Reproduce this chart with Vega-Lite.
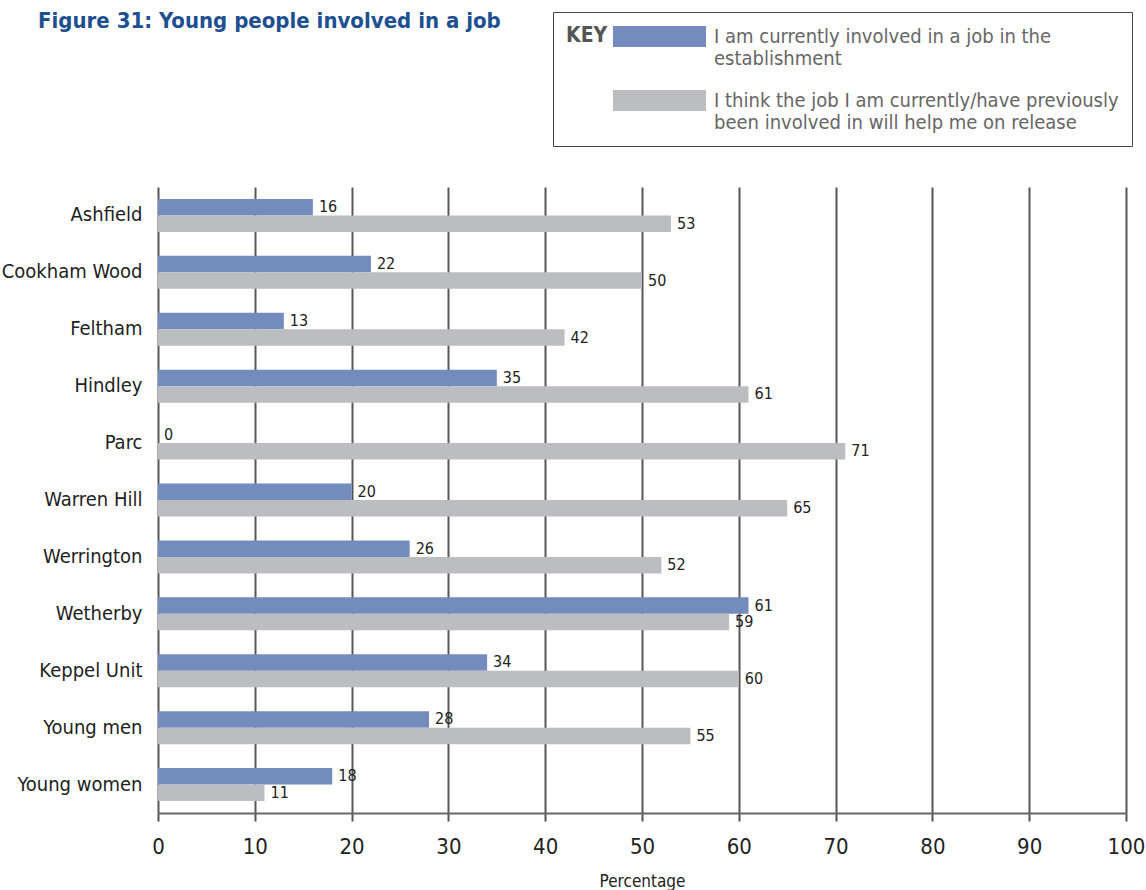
{
  "$schema": "https://vega.github.io/schema/vega-lite/v6.json",
  "width": 968,
  "height": 626,
  "autosize": {"type": "none"},
  "padding": {"left": 158, "top": 187, "right": 20, "bottom": 77},
  "background": "white",
  "config": {
    "font": "Liberation Sans Narrow, DejaVu Sans Condensed, sans-serif",
    "view": {"stroke": null}
  },
  "title": {
    "text": "Figure 31: Young people involved in a job",
    "anchor": "start",
    "frame": "group",
    "dx": -120,
    "dy": 25,
    "fontSize": 22,
    "fontWeight": "bold",
    "color": "#1d4f91",
    "baseline": "top"
  },
  "data": {
    "values": [
      {"group": "Ashfield", "series": "I am currently involved in a job in the establishment", "value": 16},
      {"group": "Ashfield", "series": "I think the job I am currently/have previously been involved in will help me on release", "value": 53},
      {"group": "Cookham Wood", "series": "I am currently involved in a job in the establishment", "value": 22},
      {"group": "Cookham Wood", "series": "I think the job I am currently/have previously been involved in will help me on release", "value": 50},
      {"group": "Feltham", "series": "I am currently involved in a job in the establishment", "value": 13},
      {"group": "Feltham", "series": "I think the job I am currently/have previously been involved in will help me on release", "value": 42},
      {"group": "Hindley", "series": "I am currently involved in a job in the establishment", "value": 35},
      {"group": "Hindley", "series": "I think the job I am currently/have previously been involved in will help me on release", "value": 61},
      {"group": "Parc", "series": "I am currently involved in a job in the establishment", "value": 0},
      {"group": "Parc", "series": "I think the job I am currently/have previously been involved in will help me on release", "value": 71},
      {"group": "Warren Hill", "series": "I am currently involved in a job in the establishment", "value": 20},
      {"group": "Warren Hill", "series": "I think the job I am currently/have previously been involved in will help me on release", "value": 65},
      {"group": "Werrington", "series": "I am currently involved in a job in the establishment", "value": 26},
      {"group": "Werrington", "series": "I think the job I am currently/have previously been involved in will help me on release", "value": 52},
      {"group": "Wetherby", "series": "I am currently involved in a job in the establishment", "value": 61},
      {"group": "Wetherby", "series": "I think the job I am currently/have previously been involved in will help me on release", "value": 59},
      {"group": "Keppel Unit", "series": "I am currently involved in a job in the establishment", "value": 34},
      {"group": "Keppel Unit", "series": "I think the job I am currently/have previously been involved in will help me on release", "value": 60},
      {"group": "Young men", "series": "I am currently involved in a job in the establishment", "value": 28},
      {"group": "Young men", "series": "I think the job I am currently/have previously been involved in will help me on release", "value": 55},
      {"group": "Young women", "series": "I am currently involved in a job in the establishment", "value": 18},
      {"group": "Young women", "series": "I think the job I am currently/have previously been involved in will help me on release", "value": 11}
    ]
  },
  "encoding": {
    "y": {
      "field": "group",
      "type": "nominal",
      "sort": null,
      "scale": {"paddingInner": 0.42, "paddingOuter": 0.21},
      "axis": {
        "title": null,
        "domain": false,
        "ticks": false,
        "labelFontSize": 20,
        "labelColor": "#222",
        "labelPadding": 16
      }
    },
    "yOffset": {
      "field": "series",
      "type": "nominal",
      "sort": null,
      "scale": {"paddingInner": 0, "paddingOuter": 0}
    },
    "x": {
      "field": "value",
      "type": "quantitative",
      "scale": {"domain": [0, 100], "nice": false},
      "axis": {
        "values": [0, 10, 20, 30, 40, 50, 60, 70, 80, 90, 100],
        "grid": true,
        "gridColor": "#575757",
        "gridWidth": 2,
        "gridOpacity": 1,
        "domainColor": "#666666",
        "domainWidth": 2,
        "tickColor": "#555555",
        "tickWidth": 2,
        "tickSize": 8,
        "labelFontSize": 22,
        "labelColor": "#222",
        "labelPadding": 15,
        "labelFlush": false,
        "title": "Percentage",
        "titleFontSize": 17,
        "titleFontWeight": "normal",
        "titleColor": "#222",
        "titlePadding": 16
      }
    }
  },
  "layer": [
    {
      "mark": {"type": "bar"},
      "encoding": {
        "color": {
          "field": "series",
          "type": "nominal",
          "sort": null,
          "scale": {
            "domain": [
              "I am currently involved in a job in the establishment",
              "I think the job I am currently/have previously been involved in will help me on release"
            ],
            "range": ["#738bbd", "#bcbdc1"]
          },
          "legend": {
            "orient": "none",
            "legendX": 395,
            "legendY": -175,
            "title": "KEY",
            "titleOrient": "left",
            "titleFontSize": 21,
            "titleFontWeight": "bold",
            "titleColor": "#555555",
            "titleBaseline": "top",
            "titleAnchor": "start",
            "titlePadding": 5,
            "symbolType": "M-1,-0.917H6.75V0.833H-1Z",
            "symbolSize": 576,
            "symbolStrokeWidth": 0,
            "symbolOpacity": 1,
            "labelFontSize": 20,
            "labelColor": "#666666",
            "labelOffset": 77,
            "labelLimit": 600,
            "labelExpr": "datum.value == 'I am currently involved in a job in the establishment' ? ['I am currently involved in a job in the', 'establishment'] : ['I think the job I am currently/have previously', 'been involved in will help me on release']",
            "rowPadding": 20,
            "padding": 13,
            "strokeColor": "#444444",
            "fillColor": "white"
          }
        }
      }
    },
    {
      "mark": {"type": "text", "align": "left", "baseline": "middle", "dx": 6, "fontSize": 16, "color": "#222"},
      "encoding": {"text": {"field": "value", "type": "quantitative"}}
    }
  ]
}
